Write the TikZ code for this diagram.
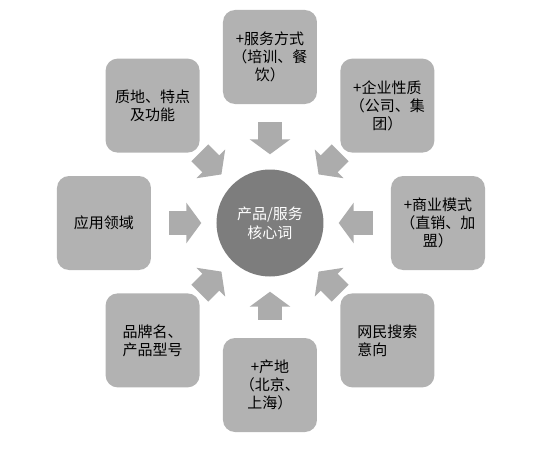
\documentclass[tikz,border=0pt]{standalone}
\usepackage{fontspec}
\setmainfont{Noto Sans CJK SC}
\usetikzlibrary{arrows.meta}
\definecolor{boxgray}{RGB}{178, 178, 178}
\definecolor{arrowgray}{RGB}{172, 172, 172}
\definecolor{coregray}{RGB}{125, 125, 125}

\begin{document}
\begin{tikzpicture}[
    box/.style={rectangle, rounded corners=12pt, fill=boxgray, minimum width=94pt,
                minimum height=94pt, inner sep=0pt, align=center,
                font=\fontsize{15pt}{18pt}\selectfont},
    core/.style={circle, fill=coregray, minimum size=107pt, inner sep=0pt,
                 align=center, text=white, font=\fontsize{15pt}{19pt}\selectfont},
    blockarrow/.style={draw=arrowgray, line width=24pt,
                       -{Triangle[length=15pt, width=40pt]}},
]
\useasboundingbox (-270pt,-230pt) rectangle (266pt,223pt);

% Centre
\node[core] (core) at (0,0) {产品/服务\\核心词};

% Surrounding boxes
\node[box] (service)  at (90:166pt)   {+服务方式\\（培训、餐\\饮）};
\node[box] (company)  at (45:166pt)   {+企业性质\\（公司、集\\团）};
\node[box] (business) at (0:168pt)    {+商业模式\\（直销、加\\盟）};
\node[box, align=left] (search) at (-45:166pt) {网民搜索\\意向};
\node[box] (origin)   at (-90:162pt)  {+产地\\（北京、\\上海）};
\node[box] (brand)    at (-135:166pt) {品牌名、\\产品型号};
\node[box] (field)    at (180:166pt)  {应用领域};
\node[box] (feature)  at (135:166pt)  {质地、特点\\及功能};

% Arrows
\draw[blockarrow, shorten <=18pt, shorten >=15pt] (service) -- (core);
\draw[blockarrow, shorten <=18pt, shorten >=15pt] (business) -- (core);
\draw[blockarrow, shorten <=18pt, shorten >=15pt] (origin) -- (core);
\draw[blockarrow, shorten <=18pt, shorten >=15pt] (field) -- (core);
\draw[blockarrow, shorten <=0pt, shorten >=15pt] (company) -- (core);
\draw[blockarrow, shorten <=0pt, shorten >=15pt] (search) -- (core);
\draw[blockarrow, shorten <=0pt, shorten >=15pt] (brand) -- (core);
\draw[blockarrow, shorten <=0pt, shorten >=15pt] (feature) -- (core);

\end{tikzpicture}
\end{document}
